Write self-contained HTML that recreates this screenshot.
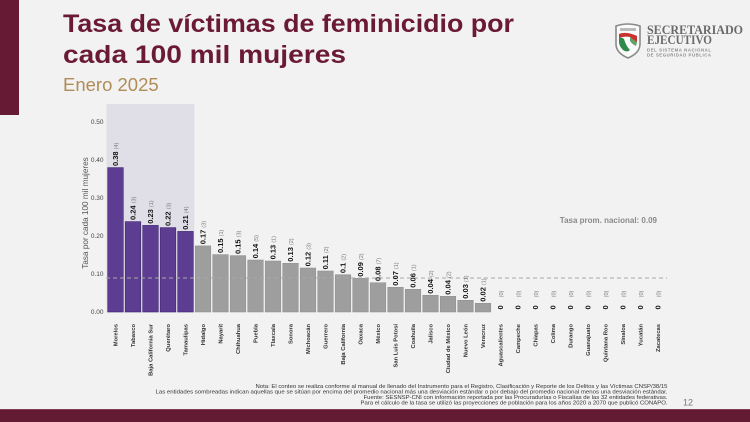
<!DOCTYPE html>
<html><head><meta charset="utf-8">
<style>
html,body{margin:0;padding:0;background:#f2f2f2;}
svg{display:block;}
</style></head>
<body>
<svg width="750" height="422" viewBox="0 0 750 422" xmlns="http://www.w3.org/2000/svg" font-family="Liberation Sans, Arial, sans-serif">
<rect x="0" y="0" width="750" height="422" fill="#f2f2f2"/>
<!-- left accent bar -->
<rect x="0" y="0" width="19" height="115" fill="#661a33"/>
<!-- title -->
<text x="63" y="32" font-size="25" font-weight="bold" fill="#6b1a35" textLength="451" lengthAdjust="spacingAndGlyphs">Tasa de víctimas de feminicidio por</text>
<text x="63" y="63" font-size="25" font-weight="bold" fill="#6b1a35" textLength="283" lengthAdjust="spacingAndGlyphs">cada 100 mil mujeres</text>
<text x="63" y="91" font-size="18.5" fill="#b08d57">Enero 2025</text>

<!-- logo -->
<g>
<path d="M616,26 Q628,22 640,26 L640,44 Q640,53 628,58 Q616,53 616,44 Z" fill="#fafafa" stroke="#8a8a8a" stroke-width="1.6"/>
<rect x="620" y="28" width="16" height="3" fill="#bbb"/>
<path d="M619,34 Q626,31 637,36 L637,42 Q633,40 630,37 Q624,36 619,38 Z" fill="#c8332f"/>
<path d="M619,38 Q622,37 624,39 Q626,46 630,50 Q627,53 623,50 Q619,46 619,42 Z" fill="#2e8a4b"/>
<path d="M630,37 Q633,40 637,42 L636,46 Q632,44 630,41 Z" fill="#5fa267"/>
<text x="647" y="34" style="font-family:'Liberation Serif',serif" font-size="12.5" font-weight="bold" fill="#6a6a6a" textLength="96" lengthAdjust="spacingAndGlyphs">SECRETARIADO</text>
<text x="647" y="44" style="font-family:'Liberation Serif',serif" font-size="12.5" font-weight="bold" fill="#6a6a6a" textLength="65" lengthAdjust="spacingAndGlyphs">EJECUTIVO</text>
<text x="647" y="51.5" font-size="4.3" font-weight="bold" fill="#8a8a8a" textLength="64" lengthAdjust="spacing">DEL SISTEMA NACIONAL</text>
<text x="647" y="56.5" font-size="4.3" font-weight="bold" fill="#8a8a8a" textLength="64" lengthAdjust="spacing">DE SEGURIDAD PÚBLICA</text>
</g>

<!-- shaded region -->
<rect x="106.5" y="104" width="87.8" height="208.5" fill="#e0dfe7"/>

<!-- y axis labels -->
<g font-size="6.5" fill="#444" text-anchor="end">
<text x="103.5" y="314">0.00</text>
<text x="103.5" y="276">0.10</text>
<text x="103.5" y="238">0.20</text>
<text x="103.5" y="200">0.30</text>
<text x="103.5" y="162">0.40</text>
<text x="103.5" y="124">0.50</text>
</g>
<text transform="translate(88,213) rotate(-90)" font-size="8.2" fill="#555" text-anchor="middle">Tasa por cada 100 mil mujeres</text>

<!-- bars -->
<g fill="#5d3d91" stroke="#43296f" stroke-width="0.6">
<rect x="107.7" y="167.6" width="15.6" height="144.4"/>
<rect x="125.2" y="221.6" width="15.6" height="90.4"/>
<rect x="142.7" y="225.4" width="15.6" height="86.6"/>
<rect x="160.2" y="227.6" width="15.6" height="84.4"/>
<rect x="177.7" y="231.4" width="15.6" height="80.6"/>
</g>
<g fill="#9e9e9e" stroke="#8c8c8c" stroke-width="0.5">
<rect x="195.2" y="245.9" width="15.6" height="66.1"/>
<rect x="212.7" y="254.6" width="15.6" height="57.4"/>
<rect x="230.2" y="255.6" width="15.6" height="56.4"/>
<rect x="247.7" y="260" width="15.6" height="52"/>
<rect x="265.2" y="261" width="15.6" height="51"/>
<rect x="282.7" y="263.3" width="15.6" height="48.7"/>
<rect x="300.2" y="268" width="15.6" height="44"/>
<rect x="317.7" y="271" width="15.6" height="41"/>
<rect x="335.2" y="274.7" width="15.6" height="37.3"/>
<rect x="352.7" y="278.3" width="15.6" height="33.7"/>
<rect x="370.2" y="282.7" width="15.6" height="29.3"/>
<rect x="387.7" y="287.3" width="15.6" height="24.7"/>
<rect x="405.2" y="289.3" width="15.6" height="22.7"/>
<rect x="422.7" y="295.3" width="15.6" height="16.7"/>
<rect x="440.2" y="296.3" width="15.6" height="15.7"/>
<rect x="457.7" y="300.3" width="15.6" height="11.7"/>
<rect x="475.2" y="303.3" width="15.6" height="8.7"/>
</g>

<!-- average line -->
<line x1="106" y1="278" x2="667" y2="278" stroke="#a8a8a8" stroke-width="1" stroke-dasharray="4 3"/>
<text x="657" y="223" font-size="8" font-weight="bold" fill="#8a8a8a" text-anchor="end">Tasa prom. nacional: 0.09</text>

<!-- value labels -->
<g font-size="7.5" font-weight="bold" fill="#111">
<text transform="translate(118.1,166) rotate(-90)">0.38<tspan font-size="5.5" font-weight="normal" fill="#777" dx="2">(4)</tspan></text>
<text transform="translate(135.6,220) rotate(-90)">0.24<tspan font-size="5.5" font-weight="normal" fill="#777" dx="2">(3)</tspan></text>
<text transform="translate(153.1,223.8) rotate(-90)">0.23<tspan font-size="5.5" font-weight="normal" fill="#777" dx="2">(1)</tspan></text>
<text transform="translate(170.6,226) rotate(-90)">0.22<tspan font-size="5.5" font-weight="normal" fill="#777" dx="2">(3)</tspan></text>
<text transform="translate(188.1,229.8) rotate(-90)">0.21<tspan font-size="5.5" font-weight="normal" fill="#777" dx="2">(4)</tspan></text>
<text transform="translate(205.6,244.3) rotate(-90)">0.17<tspan font-size="5.5" font-weight="normal" fill="#777" dx="2">(3)</tspan></text>
<text transform="translate(223.1,253) rotate(-90)">0.15<tspan font-size="5.5" font-weight="normal" fill="#777" dx="2">(1)</tspan></text>
<text transform="translate(240.6,254) rotate(-90)">0.15<tspan font-size="5.5" font-weight="normal" fill="#777" dx="2">(3)</tspan></text>
<text transform="translate(258.1,258.4) rotate(-90)">0.14<tspan font-size="5.5" font-weight="normal" fill="#777" dx="2">(5)</tspan></text>
<text transform="translate(275.6,259.4) rotate(-90)">0.13<tspan font-size="5.5" font-weight="normal" fill="#777" dx="2">(1)</tspan></text>
<text transform="translate(293.1,261.7) rotate(-90)">0.13<tspan font-size="5.5" font-weight="normal" fill="#777" dx="2">(2)</tspan></text>
<text transform="translate(310.6,266.4) rotate(-90)">0.12<tspan font-size="5.5" font-weight="normal" fill="#777" dx="2">(3)</tspan></text>
<text transform="translate(328.1,269.4) rotate(-90)">0.11<tspan font-size="5.5" font-weight="normal" fill="#777" dx="2">(2)</tspan></text>
<text transform="translate(345.6,273.1) rotate(-90)">0.1<tspan font-size="5.5" font-weight="normal" fill="#777" dx="2">(2)</tspan></text>
<text transform="translate(363.1,276.7) rotate(-90)">0.09<tspan font-size="5.5" font-weight="normal" fill="#777" dx="2">(2)</tspan></text>
<text transform="translate(380.6,281.1) rotate(-90)">0.08<tspan font-size="5.5" font-weight="normal" fill="#777" dx="2">(7)</tspan></text>
<text transform="translate(398.1,285.7) rotate(-90)">0.07<tspan font-size="5.5" font-weight="normal" fill="#777" dx="2">(1)</tspan></text>
<text transform="translate(415.6,287.7) rotate(-90)">0.06<tspan font-size="5.5" font-weight="normal" fill="#777" dx="2">(1)</tspan></text>
<text transform="translate(433.1,293.7) rotate(-90)">0.04<tspan font-size="5.5" font-weight="normal" fill="#777" dx="2">(2)</tspan></text>
<text transform="translate(450.6,294.7) rotate(-90)">0.04<tspan font-size="5.5" font-weight="normal" fill="#777" dx="2">(2)</tspan></text>
<text transform="translate(468.1,298.7) rotate(-90)">0.03<tspan font-size="5.5" font-weight="normal" fill="#777" dx="2">(1)</tspan></text>
<text transform="translate(485.6,301.7) rotate(-90)">0.02<tspan font-size="5.5" font-weight="normal" fill="#777" dx="2">(1)</tspan></text>
<text transform="translate(503.1,309.5) rotate(-90)">0<tspan font-size="5.5" font-weight="normal" fill="#777" dx="8">(0)</tspan></text>
<text transform="translate(520.6,309.5) rotate(-90)">0<tspan font-size="5.5" font-weight="normal" fill="#777" dx="8">(0)</tspan></text>
<text transform="translate(538.1,309.5) rotate(-90)">0<tspan font-size="5.5" font-weight="normal" fill="#777" dx="8">(0)</tspan></text>
<text transform="translate(555.6,309.5) rotate(-90)">0<tspan font-size="5.5" font-weight="normal" fill="#777" dx="8">(0)</tspan></text>
<text transform="translate(573.1,309.5) rotate(-90)">0<tspan font-size="5.5" font-weight="normal" fill="#777" dx="8">(0)</tspan></text>
<text transform="translate(590.6,309.5) rotate(-90)">0<tspan font-size="5.5" font-weight="normal" fill="#777" dx="8">(0)</tspan></text>
<text transform="translate(608.1,309.5) rotate(-90)">0<tspan font-size="5.5" font-weight="normal" fill="#777" dx="8">(0)</tspan></text>
<text transform="translate(625.6,309.5) rotate(-90)">0<tspan font-size="5.5" font-weight="normal" fill="#777" dx="8">(0)</tspan></text>
<text transform="translate(643.1,309.5) rotate(-90)">0<tspan font-size="5.5" font-weight="normal" fill="#777" dx="8">(0)</tspan></text>
<text transform="translate(660.6,309.5) rotate(-90)">0<tspan font-size="5.5" font-weight="normal" fill="#777" dx="8">(0)</tspan></text>
</g>

<!-- x labels -->
<g font-size="5.8" font-weight="bold" fill="#333" text-anchor="end">
<text transform="translate(117.6,324) rotate(-90)">Morelos</text>
<text transform="translate(135.1,324) rotate(-90)">Tabasco</text>
<text transform="translate(152.6,324) rotate(-90)">Baja California Sur</text>
<text transform="translate(170.1,324) rotate(-90)">Querétaro</text>
<text transform="translate(187.6,324) rotate(-90)">Tamaulipas</text>
<text transform="translate(205.1,324) rotate(-90)">Hidalgo</text>
<text transform="translate(222.6,324) rotate(-90)">Nayarit</text>
<text transform="translate(240.1,324) rotate(-90)">Chihuahua</text>
<text transform="translate(257.6,324) rotate(-90)">Puebla</text>
<text transform="translate(275.1,324) rotate(-90)">Tlaxcala</text>
<text transform="translate(292.6,324) rotate(-90)">Sonora</text>
<text transform="translate(310.1,324) rotate(-90)">Michoacán</text>
<text transform="translate(327.6,324) rotate(-90)">Guerrero</text>
<text transform="translate(345.1,324) rotate(-90)">Baja California</text>
<text transform="translate(362.6,324) rotate(-90)">Oaxaca</text>
<text transform="translate(380.1,324) rotate(-90)">México</text>
<text transform="translate(397.6,324) rotate(-90)">San Luis Potosí</text>
<text transform="translate(415.1,324) rotate(-90)">Coahuila</text>
<text transform="translate(432.6,324) rotate(-90)">Jalisco</text>
<text transform="translate(450.1,324) rotate(-90)">Ciudad de México</text>
<text transform="translate(467.6,324) rotate(-90)">Nuevo León</text>
<text transform="translate(485.1,324) rotate(-90)">Veracruz</text>
<text transform="translate(502.6,324) rotate(-90)">Aguascalientes</text>
<text transform="translate(520.1,324) rotate(-90)">Campeche</text>
<text transform="translate(537.6,324) rotate(-90)">Chiapas</text>
<text transform="translate(555.1,324) rotate(-90)">Colima</text>
<text transform="translate(572.6,324) rotate(-90)">Durango</text>
<text transform="translate(590.1,324) rotate(-90)">Guanajuato</text>
<text transform="translate(607.6,324) rotate(-90)">Quintana Roo</text>
<text transform="translate(625.1,324) rotate(-90)">Sinaloa</text>
<text transform="translate(642.6,324) rotate(-90)">Yucatán</text>
<text transform="translate(660.1,324) rotate(-90)">Zacatecas</text>
</g>

<!-- footnote -->
<g font-size="5.5" fill="#333" text-anchor="end">
<text x="667.5" y="388" textLength="412" lengthAdjust="spacingAndGlyphs">Nota: El conteo se realiza conforme al manual de llenado del Instrumento para el Registro, Clasificación y Reporte de los Delitos y las Víctimas CNSP/38/15</text>
<text x="667.5" y="393.5" textLength="512" lengthAdjust="spacingAndGlyphs">Las entidades sombreadas indican aquellas que se sitúan por encima del promedio nacional más una desviación estándar o por debajo del promedio nacional menos una desviación estándar.</text>
<text x="667.5" y="399" textLength="304" lengthAdjust="spacingAndGlyphs">Fuente: SESNSP-CNI con información reportada por las Procuradurías o Fiscalías de las 32 entidades federativas.</text>
<text x="667.5" y="404.5" textLength="307" lengthAdjust="spacingAndGlyphs">Para el cálculo de la tasa se utilizó las proyecciones de población para los años 2020 a 2070 que publicó CONAPO.</text>
</g>
<text x="683" y="405.5" font-size="9" fill="#777">12</text>

<!-- footer band -->
<rect x="0" y="409.5" width="750" height="12.5" fill="#621b33"/>
<rect x="0" y="409" width="750" height="0.8" fill="#8a4a5e"/>
</svg>
</body></html>
